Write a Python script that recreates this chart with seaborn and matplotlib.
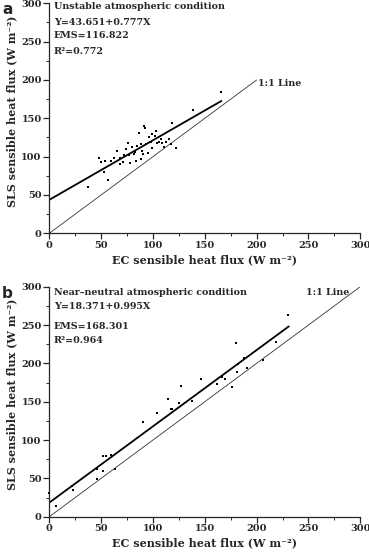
import numpy as np
import pandas as pd
import matplotlib
matplotlib.use("Agg")
import matplotlib.pyplot as plt
from matplotlib.ticker import MultipleLocator
import seaborn as sns

# panel a - unstable condition
ec_a = [36.9, 47.6, 49.8, 53.0, 54.0, 56.3, 59.9, 62.2, 65.4, 68.3, 68.0, 70.9,
        72.5, 74.4, 76.0, 76.7, 77.7, 79.3, 81.6, 82.5, 83.2, 84.8, 86.5, 88.0,
        88.5, 89.7, 90.3, 91.3, 92.8, 93.2, 95.5, 96.1, 97.8, 98.7, 99.4, 101.9,
        103.3, 104.2, 105.8, 107.5, 109.1, 110.7, 112.3, 115.5, 117.2, 117.9,
        122.0, 139.0, 165.7]
sls_a = [60.0, 97.8, 93.0, 80.4, 94.8, 69.6, 94.3, 97.8, 107.5, 97.8, 90.4, 93.4,
         102.0, 110.5, 118.0, 102.0, 91.3, 113.0, 104.0, 106.4, 94.0, 114.5, 130.4, 96.9,
         117.0, 107.3, 104.0, 140.0, 137.5, 116.0, 104.3, 126.0, 119.4, 110.8, 129.0, 127.2,
         133.0, 118.0, 119.4, 123.0, 117.3, 113.0, 119.4, 122.6, 116.0, 143.5,
         110.9, 161.0, 184.6]

# panel b - near-neutral condition
ec_b = [0.0, 6.4, 21.6, 22.5, 45.7, 46.3, 51.5, 52.2, 54.7, 59.5, 63.4, 90.7,
        104.2, 114.9, 117.1, 118.0, 124.8, 127.1, 137.5, 146.0, 161.6, 166.4,
        169.6, 176.6, 180.2, 181.5, 182.4, 188.0, 190.5, 206.0, 218.8, 230.1]
sls_b = [31.3, 14.0, 40.0, 34.7, 48.7, 61.7, 60.0, 79.0, 79.0, 80.4, 62.0, 124.0,
         135.6, 154.0, 140.0, 141.0, 148.7, 170.4, 150.5, 179.0, 173.0, 181.7,
         179.5, 169.5, 226.0, 189.0, 199.0, 206.5, 194.0, 205.0, 228.0, 262.6]

# fitted lines (intercept, slope, x range) and 1:1 line ranges
fit_a = (43.651, 0.777, [0, 166])
fit_b = (18.371, 0.995, [0, 231])
one_a = [0, 200]
one_b = [0, 300]

text_a = ["Unstable atmospheric condition", "Y=43.651+0.777X", "EMS=116.822", "R²=0.772"]
text_b = ["Near\u2013neutral atmospheric condition", "Y=18.371+0.995X", "EMS=168.301", "R²=0.964"]

sns.set_style("ticks")
plt.rcParams["font.family"] = ["DejaVu Serif"]
plt.rcParams["font.weight"] = "bold"

fig = plt.figure(figsize=(3.69, 5.54), dpi=100)
ax_a = fig.add_axes([0.1336, 0.5789, 0.8428, 0.4151])
ax_b = fig.add_axes([0.1336, 0.0673, 0.8428, 0.4152])


def draw_panel(ax, ec, sls, fit, one, texts, text_y, one_pos, letter):
    df = pd.DataFrame({"EC": ec, "SLS": sls})
    sns.scatterplot(data=df, x="EC", y="SLS", ax=ax, color="black", s=3,
                    marker="s", linewidth=0, clip_on=False, zorder=3)
    a, b, xr = fit
    line = pd.DataFrame({"x": xr, "y": [a + b * v for v in xr]})
    sns.lineplot(data=line, x="x", y="y", ax=ax, color="black", linewidth=1.3)
    sns.lineplot(x=one, y=one, ax=ax, color="#333333", linewidth=0.6)

    ax.set_xlim(0, 300)
    ax.set_ylim(0, 300)
    ax.xaxis.set_major_locator(MultipleLocator(50))
    ax.yaxis.set_major_locator(MultipleLocator(50))
    ax.xaxis.set_minor_locator(MultipleLocator(25))
    ax.yaxis.set_minor_locator(MultipleLocator(25))
    ax.tick_params(which="major", length=4, width=0.9, labelsize=7, pad=1.5)
    ax.tick_params(which="minor", length=2, width=0.7)
    for lab in ax.get_xticklabels() + ax.get_yticklabels():
        lab.set_fontweight("bold")
    for side in ["top", "right"]:
        ax.spines[side].set_visible(False)
    for side in ["left", "bottom"]:
        ax.spines[side].set_linewidth(0.9)
    ax.set_xlabel("EC sensible heat flux (W m⁻²)", fontsize=8, fontweight="bold",
                  labelpad=3)
    ax.set_ylabel("SLS sensible heat flux (W m⁻²)", fontsize=8, fontweight="bold")
    ax.yaxis.set_label_coords(-0.104, 0.53)

    for t, y in zip(texts, text_y):
        ax.text(4.5, y, t, fontsize=6.8, fontweight="bold", va="center", ha="left")
    ax.text(one_pos[0], one_pos[1], "1:1 Line", fontsize=6.8, fontweight="bold",
            va="center", ha="left")
    ax.text(-0.152, 1.005, letter, transform=ax.transAxes, fontsize=11,
            fontweight="bold", family="DejaVu Sans", va="top", ha="left")


draw_panel(ax_a, ec_a, sls_a, fit_a, one_a, text_a, [296, 274.6, 258, 236.7],
           (201, 196), "a")
draw_panel(ax_b, ec_b, sls_b, fit_b, one_b, text_b, [292, 273.8, 248.6, 230.4],
           (248, 293), "b")

fig.savefig("out.png", dpi=100)
